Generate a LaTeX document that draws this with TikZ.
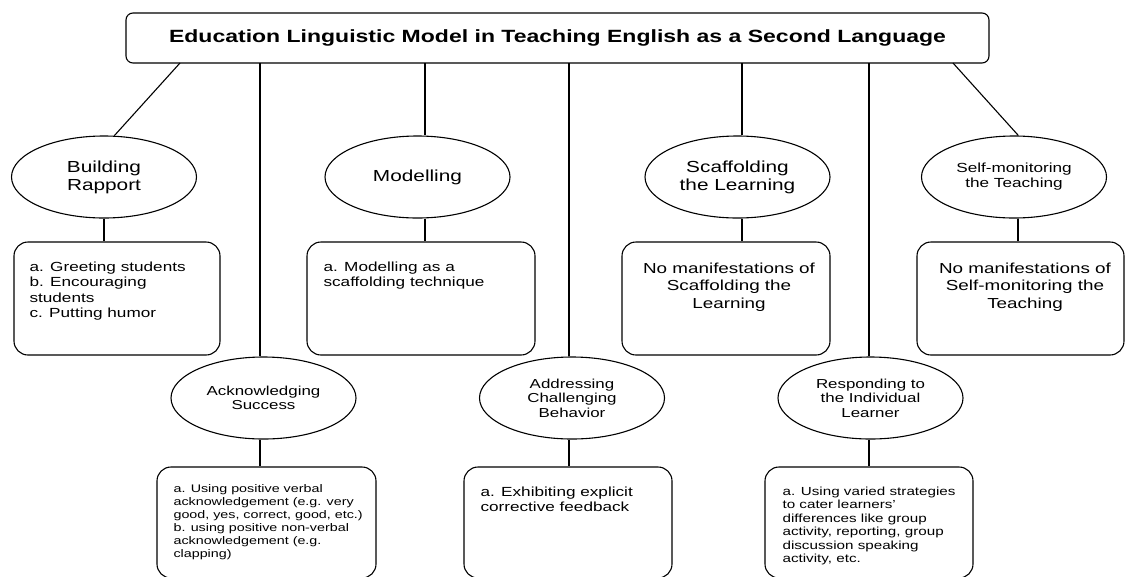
\documentclass[tikz,border=0pt]{standalone}
\usepackage{fontspec}
\setmainfont{Liberation Sans}[FakeStretch=1.3]
\usetikzlibrary{shapes.geometric}
\newcommand\myfs[2]{\fontsize{#1}{#2}\selectfont}
\begin{document}
\begin{tikzpicture}[x=1pt,y=-1pt, line width=1.1pt,
  ell/.style={draw, ellipse, inner sep=0pt, minimum width=185pt, minimum height=82pt, align=center},
  box/.style={draw, rounded corners=14pt, inner sep=0pt},
  txt/.style={inner sep=0pt, align=left, anchor=north west},
  ctxt/.style={inner sep=0pt, align=center, anchor=north},
  link/.style={line width=1.1pt}]
\useasboundingbox (0,0) rectangle (1125,576);

% title
\node[draw, rounded corners=7pt, minimum width=863pt, minimum height=50pt, inner sep=0pt,
      font=\myfs{17.7}{20}\bfseries] (title) at (557.5,38)
  {Education Linguistic Model in Teaching English as a Second Language};

% ellipses row 1
\node[ell, font=\myfs{16}{18}] (br)   at (104,177)   {Building\\Rapport};
\node[ell, font=\myfs{16}{18}] (mod)  at (417.5,177) {Modelling};
\node[ell, font=\myfs{16}{18}] (scaf) at (737.5,177) {Scaffolding\\the Learning};
\node[ell, font=\myfs{13.2}{15}] (sm) at (1014,177)  {Self-monitoring\\the Teaching};

% ellipses row 2
\node[ell, font=\myfs{13}{14.5}] (ack)  at (263.5,398) {Acknowledging\\Success};
\node[ell, font=\myfs{13}{14.5}] (addr) at (572,398)   {Addressing\\Challenging\\Behavior};
\node[ell, font=\myfs{13}{14.5}] (resp) at (870.5,398) {Responding to\\the Individual\\Learner};

% boxes row 1
\node[box, minimum width=206pt, minimum height=113pt] (brb)   at (117,298.5)  {};
\node[box, minimum width=228pt, minimum height=113pt] (modb)  at (421,298.5)  {};
\node[box, minimum width=208pt, minimum height=113pt] (scafb) at (726,298.5)  {};
\node[box, minimum width=207pt, minimum height=113pt] (smb)   at (1020.5,298.5) {};

% boxes row 2
\node[box, minimum width=219pt, minimum height=111pt] (ackb)  at (266.5,522.5) {};
\node[box, minimum width=208pt, minimum height=111pt] (addrb) at (568,522.5)   {};
\node[box, minimum width=208pt, minimum height=111pt] (respb) at (869,522.5)   {};

% box texts
\node[txt, font=\myfs{13.2}{15.5}] (brt) at (29,261)
  {a. Greeting students\\b. Encouraging\\students\\c. Putting humor};
\node[txt, font=\myfs{13.2}{15.5}] (modt) at (323,261)
  {a. Modelling as a\\scaffolding technique};
\node[ctxt, font=\myfs{14.5}{17.5}] (scaft) at (729,262)
  {No manifestations of\\Scaffolding the\\Learning};
\node[ctxt, font=\myfs{14.5}{17.5}] (smt) at (1025,262)
  {No manifestations of\\Self-monitoring the\\Teaching};
\node[txt, font=\myfs{11}{13}] (ackt) at (173,484)
  {a. Using positive verbal\\acknowledgement (e.g. very\\good, yes, correct, good, etc.)\\b. using positive non-verbal\\acknowledgement (e.g.\\clapping)};
\node[txt, font=\myfs{13.2}{15.3}] (addrt) at (480,486)
  {a. Exhibiting explicit\\corrective feedback};
\node[txt, font=\myfs{11.7}{13.5}] (respt) at (782,486)
  {a. Using varied strategies\\to cater learners'\\differences like group\\activity, reporting, group\\discussion speaking\\activity, etc.};

% connector x positions on the title's lower edge
\coordinate (tBR)   at (180,63);
\coordinate (tSM)   at (953,63);
\coordinate (cAck)  at (260,63);
\coordinate (cMod)  at (425,63);
\coordinate (cAddr) at (569,63);
\coordinate (cScaf) at (742,63);
\coordinate (cResp) at (869,63);
\coordinate (cSM)   at (1018,63);

% title to ellipses
\draw[link] (tBR) -- (br.76);
\draw[link] (tSM) -- (sm.84);
\draw[link] (cAck)  -- (cAck |- ack.north);
\draw[link] (cMod)  -- (cMod |- mod.north);
\draw[link] (cAddr) -- (cAddr |- addr.north);
\draw[link] (cScaf) -- (cScaf |- scaf.north);
\draw[link] (cResp) -- (cResp |- resp.north);

% ellipses to boxes
\draw[link] (br.south) -- (br.south |- brb.north);
\draw[link] (cMod |- mod.south) -- (cMod |- modb.north);
\draw[link] (cScaf |- scaf.south) -- (cScaf |- scafb.north);
\draw[link] (cSM |- sm.south) -- (cSM |- smb.north);
\draw[link] (cAck |- ack.south) -- (cAck |- ackb.north);
\draw[link] (cAddr |- addr.south) -- (cAddr |- addrb.north);
\draw[link] (cResp |- resp.south) -- (cResp |- respb.north);
\end{tikzpicture}
\end{document}
